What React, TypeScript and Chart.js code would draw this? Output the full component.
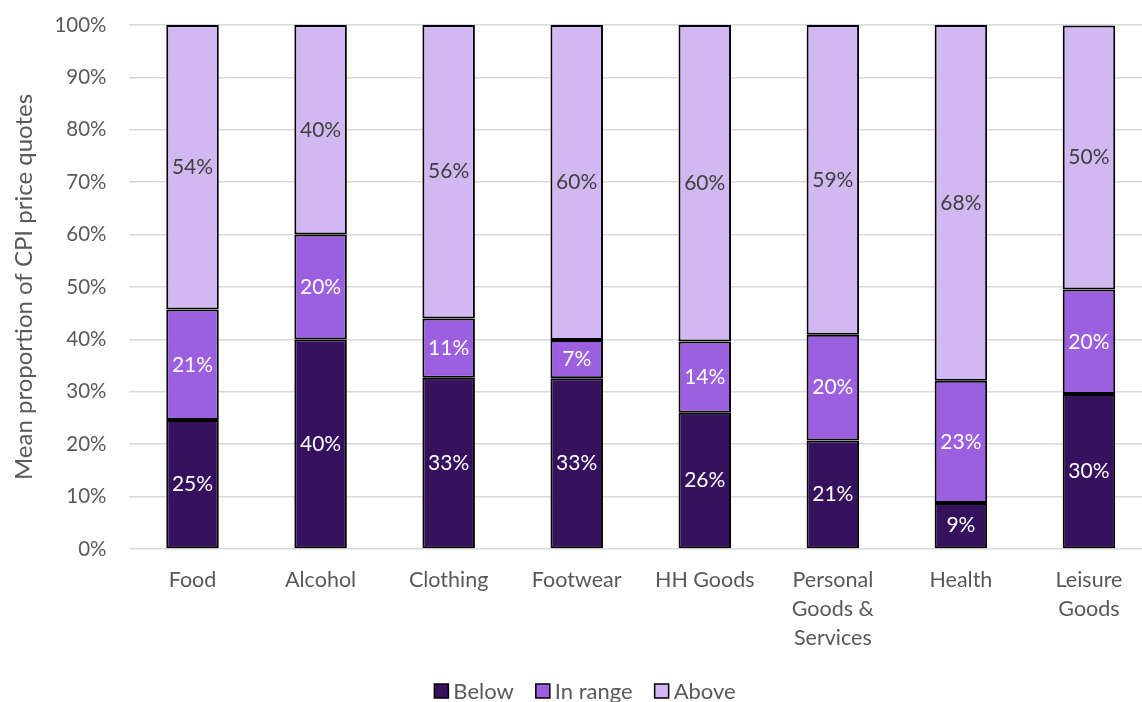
import React, { useEffect, useRef } from "react";
import { Chart, registerables } from "chart.js";

Chart.register(...registerables);

const categories: (string | string[])[] = [
  "Food",
  "Alcohol",
  "Clothing",
  "Footwear",
  "HH Goods",
  ["Personal", "Goods &", "Services"],
  "Health",
  ["Leisure", "Goods"],
];
const below = [24.6, 40.0, 32.7, 32.6, 26.0, 20.7, 8.8, 29.6];
const inRange = [21.1, 20.0, 11.3, 7.3, 13.6, 20.2, 23.3, 19.9];
const above = [54.3, 40.0, 56.0, 60.1, 60.4, 59.1, 67.9, 50.4];
const seriesNames = ["Below", "In range", "Above"];
const seriesColors = ["#35115E", "#9B5FE0", "#D1B8F0"];
const labelColors = ["#FFFFFF", "#FFFFFF", "#404040"];

const FONT = "Lato, 'Open Sans', sans-serif";

const labelPlugin = {
  id: "segLabels",
  afterDatasetsDraw(chart: any) {
    const ctx = chart.ctx;
    ctx.save();
    ctx.font = `21px ${FONT}`;
    ctx.textAlign = "center";
    ctx.textBaseline = "middle";
    chart.data.datasets.forEach((ds: any, di: number) => {
      const meta = chart.getDatasetMeta(di);
      meta.data.forEach((el: any, i: number) => {
        const v = ds.data[i];
        const cy = (el.y + el.base) / 2;
        ctx.fillStyle = labelColors[di];
        ctx.fillText(Math.round(v) + "%", el.x, cy);
      });
    });
    ctx.restore();
  },
};

const legendPlugin = {
  id: "customLegend",
  afterDraw(chart: any) {
    const ctx = chart.ctx;
    ctx.save();
    ctx.font = `22px ${FONT}`;
    ctx.textBaseline = "middle";
    const box = 14;
    const gap = 5;
    const itemGap = 22;
    const widths = seriesNames.map((n) => box + gap + ctx.measureText(n).width);
    const total = widths.reduce((a, b) => a + b, 0) + itemGap * (seriesNames.length - 1);
    let x = 585 - total / 2;
    const cy = 691;
    seriesNames.forEach((n, i) => {
      ctx.fillStyle = seriesColors[i];
      ctx.fillRect(x, cy - box / 2, box, box);
      ctx.strokeStyle = "#000";
      ctx.lineWidth = 1.5;
      ctx.strokeRect(x, cy - box / 2, box, box);
      ctx.fillStyle = "#595959";
      ctx.textAlign = "left";
      ctx.fillText(n, x + box + gap, cy + 1);
      x += widths[i] + itemGap;
    });
    ctx.restore();
  },
};

export default function App() {
  const ref = useRef<HTMLCanvasElement | null>(null);
  useEffect(() => {
    if (!ref.current) return;
    const chart = new Chart(ref.current, {
      type: "bar",
      data: {
        labels: categories,
        datasets: [below, inRange, above].map((d, i) => ({
          label: seriesNames[i],
          data: d,
          backgroundColor: seriesColors[i],
          borderColor: "#000000",
          borderWidth: 2,
          borderSkipped: false,
          categoryPercentage: 1,
          barPercentage: 0.41,
        })),
      },
      options: {
        responsive: false,
        animation: false,
        layout: { padding: { left: 0, right: 8, top: 25, bottom: 31 } },
        plugins: {
          tooltip: { enabled: false },
          legend: { display: false },
        },
        scales: {
          x: {
            stacked: true,
            grid: { display: false },
            border: { display: false },
            ticks: {
              font: { family: FONT, size: 21.5, lineHeight: 1.36 },
              color: "#595959",
              padding: 8,
              maxRotation: 0,
              autoSkip: false,
            },
            afterFit(scale: any) {
              scale.height = 122;
            },
          },
          y: {
            stacked: true,
            min: 0,
            max: 100,
            grid: {
              color: "#D9D9D9",
              lineWidth: 1.5,
              drawTicks: true,
              tickLength: 20,
              tickColor: "rgba(0,0,0,0)",
            },
            border: { display: false },
            ticks: {
              stepSize: 10,
              font: { family: FONT, size: 20.5 },
              color: "#595959",
              padding: 2,
              callback: (v: any) => v + "%",
            },
            title: {
              display: true,
              text: "Mean proportion of CPI price quotes",
              font: { family: FONT, size: 24 },
              color: "#595959",
              padding: { top: 10, bottom: 12 },
            },
            afterFit(scale: any) {
              scale.width = 128.5;
            },
          },
        },
      },
      plugins: [labelPlugin, legendPlugin],
    });
    return () => chart.destroy();
  }, []);
  return (
    <div
      style={{
        position: "absolute",
        left: 0,
        top: 0,
        width: 1142,
        height: 702,
        overflow: "hidden",
        background: "#fff",
      }}
    >
      <canvas ref={ref} width={1161} height={702} style={{ width: 1161, height: 702, display: "block" }} />
    </div>
  );
}
